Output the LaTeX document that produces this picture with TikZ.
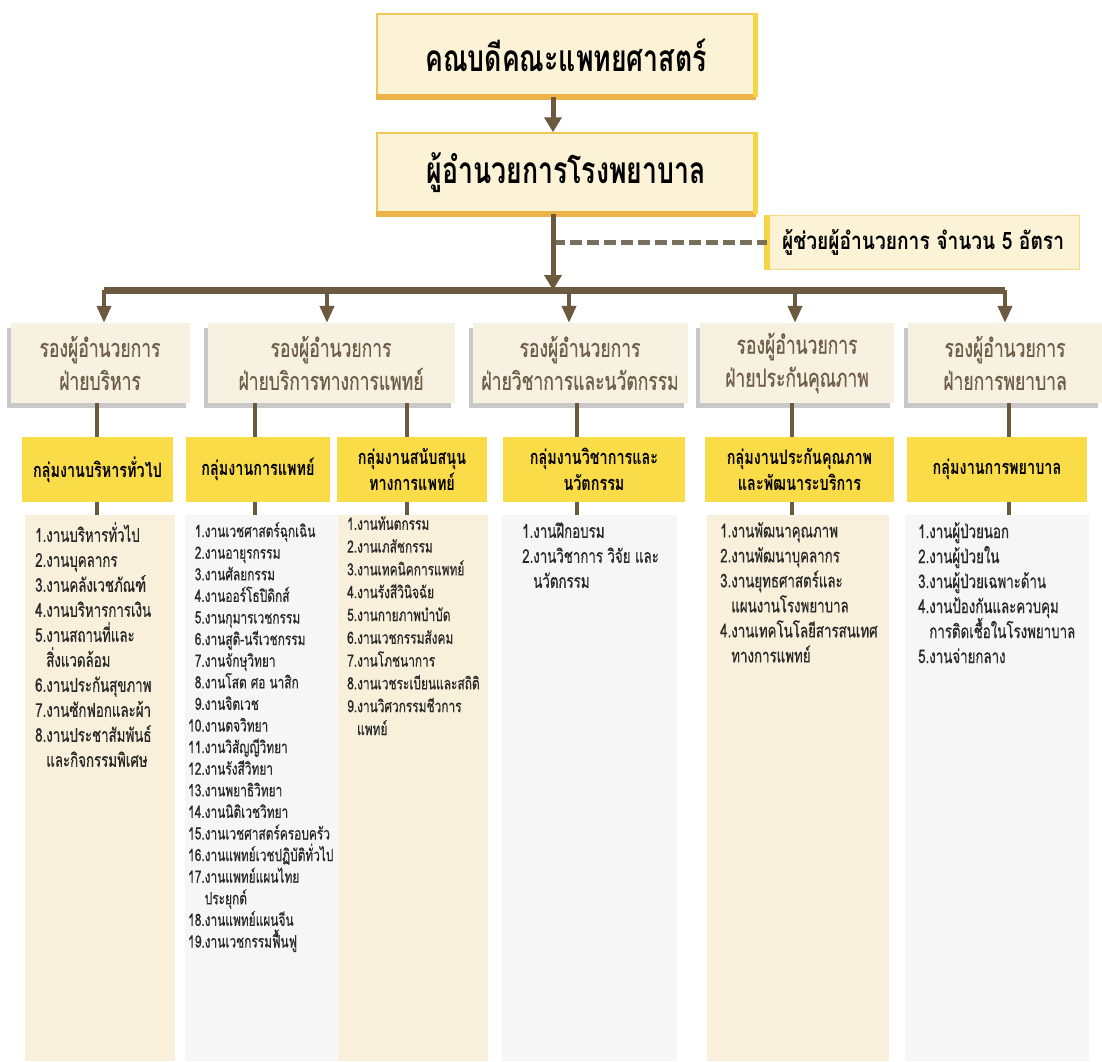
\documentclass[tikz,border=0pt]{standalone}
\usepackage{fontspec}
\newfontfamily\thai[Script=Thai,FakeStretch=0.8]{Loma}
\newfontfamily\thaicond[Script=Thai,FakeStretch=0.72]{Loma}
\newfontfamily\thaiitem[Script=Thai,FakeStretch=0.7,FakeBold=0.5]{Loma}
\usetikzlibrary{arrows.meta}
\usetikzlibrary{shadows}
\definecolor{arrowbrown}{RGB}{107,90,64}
\definecolor{dashbrown}{RGB}{122,110,92}
\definecolor{titlecream}{RGB}{252,243,214}
\definecolor{titlegold}{RGB}{240,200,90}
\definecolor{titleorange}{RGB}{236,180,72}
\definecolor{titleyellow}{RGB}{247,214,70}
\definecolor{depcream}{RGB}{247,241,225}
\definecolor{depshadow}{RGB}{200,200,200}
\definecolor{deptext}{RGB}{110,94,72}
\definecolor{grpyellow}{RGB}{250,220,72}
\definecolor{lstcream}{RGB}{248,240,218}
\definecolor{lstgray}{RGB}{246,246,246}
\definecolor{lsttext}{RGB}{40,40,40}

\begin{document}
\begin{tikzpicture}[x=1pt,y=-1pt,
    arr/.style={line width=5pt,arrowbrown,-{Triangle[width=17pt,length=15pt]}},
    drop/.style={line width=4pt,arrowbrown,-{Triangle[width=14pt,length=17pt]}},
    bar/.style={line width=7pt,arrowbrown},
    link/.style={line width=4pt,arrowbrown},
    title/.style={fill=titlecream,draw=titlegold,line width=1.5pt,minimum width=378pt,minimum height=82pt,
        font={\thaicond\bfseries\fontsize{37}{40}\selectfont}},
    assistbox/.style={fill=titlecream,draw=titlegold!70,line width=1pt,minimum width=312pt,minimum height=54pt,
        font={\thai\bfseries\fontsize{24}{28}\selectfont}},
    dep/.style={fill=depcream,minimum height=80pt,align=center,text=deptext,
        drop shadow={shadow xshift=-4pt,shadow yshift=-5pt,fill=depshadow,opacity=1},
        font={\thaiitem\fontsize{25}{33}\selectfont}},
    grp/.style={fill=grpyellow,minimum height=65pt,align=center,
        font={\thaicond\bfseries\fontsize{20}{26}\selectfont}},
    lst/.style={minimum height=546pt,inner sep=0pt},
    bigitems/.style={anchor=north west,inner sep=0pt,align=left,text=lsttext,
        font={\thaiitem\fontsize{19}{25}\selectfont\lineskiplimit=-50pt}},
    smallitems/.style={anchor=north west,inner sep=0pt,align=left,text=lsttext,
        font={\thaiitem\fontsize{17}{21.6}\selectfont\lineskiplimit=-50pt}}]
\fill[white] (0,0) rectangle (1102,1061);
\useasboundingbox (0,0) rectangle (1102,1061);

\node[title] (dean) at (566,55) {คณบดีคณะแพทยศาสตร์};
\node[title,minimum height=80pt] (dir) at (566,173) {ผู้อำนวยการโรงพยาบาล};
\draw[line width=6pt,titleorange] (dean.south west) -- (dean.south east);
\draw[line width=5pt,titleyellow] (dean.north east) -- (dean.south east);
\draw[line width=6pt,titleorange] (dir.south west) -- (dir.south east);
\draw[line width=5pt,titleyellow] (dir.north east) -- (dir.south east);
\node[assistbox] (assist) at (923,242) {ผู้ช่วยผู้อำนวยการ จำนวน 5 อัตรา};
\draw[line width=6pt,titleyellow] (assist.north west) -- (assist.south west);

\node[dep,minimum width=179pt] (dep1) at (100,363) {รองผู้อำนวยการ\\ฝ่ายบริหาร};
\node[dep,minimum width=247pt] (dep2) at (331,363) {รองผู้อำนวยการ\\ฝ่ายบริการทางการแพทย์};
\node[dep,minimum width=215pt] (dep3) at (580,363) {รองผู้อำนวยการ\\ฝ่ายวิชาการและนวัตกรรม};
\node[dep,minimum width=194pt] (dep4) at (797,363) {รองผู้อำนวยการ\\ฝ่ายประกันคุณภาพ};
\node[dep,minimum width=194pt] (dep5) at (1005,363) {รองผู้อำนวยการ\\ฝ่ายการพยาบาล};

\node[grp,minimum width=151pt] (grp1) at (97.5,469.5) {กลุ่มงานบริหารทั่วไป};
\node[grp,minimum width=144pt] (grp2) at (258,469.5) {กลุ่มงานการแพทย์};
\node[grp,minimum width=150pt] (grp3) at (412,469.5) {กลุ่มงานสนับสนุน\\ทางการแพทย์};
\node[grp,minimum width=182pt] (grp4) at (594,469.5) {กลุ่มงานวิชาการและ\\นวัตกรรม};
\node[grp,minimum width=189pt] (grp5) at (799.5,469.5) {กลุ่มงานประกันคุณภาพ\\และพัฒนาระบริการ};
\node[grp,minimum width=180pt] (grp6) at (997,469.5) {กลุ่มงานการพยาบาล};

\node[lst,fill=lstcream,minimum width=150pt] (lst1) at (100,788) {};
\node[lst,fill=lstgray,minimum width=152pt] (lst2) at (261,788) {};
\node[lst,fill=lstcream,minimum width=150pt] (lst3) at (413,788) {};
\node[lst,fill=lstgray,minimum width=175pt] (lst4) at (589.5,788) {};
\node[lst,fill=lstcream,minimum width=182pt] (lst5) at (798,788) {};
\node[lst,fill=lstgray,minimum width=184pt] (lst6) at (997,788) {};

\node[bigitems] (txt1) at (35,522) {1.งานบริหารทั่วไป\\2.งานบุคลากร\\3.งานคลังเวชภัณฑ์\\4.งานบริหารการเงิน\\5.งานสถานที่และ\\\hphantom{5.}สิ่งแวดล้อม\\6.งานประกันสุขภาพ\\7.งานซักฟอกและผ้า\\8.งานประชาสัมพันธ์\\\hphantom{8.}และกิจกรรมพิเศษ};
\node[smallitems] (txt2) at (188,522) {\hphantom{1}1.งานเวชศาสตร์ฉุกเฉิน\\\hphantom{1}2.งานอายุรกรรม\\\hphantom{1}3.งานศัลยกรรม\\\hphantom{1}4.งานออร์โธปิดิกส์\\\hphantom{1}5.งานกุมารเวชกรรม\\\hphantom{1}6.งานสูติ-นรีเวชกรรม\\\hphantom{1}7.งานจักษุวิทยา\\\hphantom{1}8.งานโสต ศอ นาสิก\\\hphantom{1}9.งานจิตเวช\\10.งานตจวิทยา\\11.งานวิสัญญีวิทยา\\12.งานรังสีวิทยา\\13.งานพยาธิวิทยา\\14.งานนิติเวชวิทยา\\15.งานเวชศาสตร์ครอบครัว\\16.งานแพทย์เวชปฏิบัติทั่วไป\\17.งานแพทย์แผนไทย\\\hphantom{17.}ประยุกต์\\18.งานแพทย์แผนจีน\\19.งานเวชกรรมฟื้นฟู};
\node[smallitems,font={\thaiitem\fontsize{17}{22.8}\selectfont\lineskiplimit=-50pt}] (txt3) at (347,516) {1.งานทันตกรรม\\2.งานเภสัชกรรม\\3.งานเทคนิคการแพทย์\\4.งานรังสีวินิจฉัย\\5.งานกายภาพบำบัด\\6.งานเวชกรรมสังคม\\7.งานโภชนาการ\\8.งานเวชระเบียนและสถิติ\\9.งานวิศวกรรมชีวการ\\\hphantom{9.}แพทย์};
\node[bigitems] (txt4) at (522,522) {1.งานฝึกอบรม\\2.งานวิชาการ วิจัย และ\\\hphantom{2.}นวัตกรรม};
\node[bigitems] (txt5) at (720,522) {1.งานพัฒนาคุณภาพ\\2.งานพัฒนาบุคลากร\\3.งานยุทธศาสตร์และ\\\hphantom{3.}แผนงานโรงพยาบาล\\4.งานเทคโนโลยีสารสนเทศ\\\hphantom{4.}ทางการแพทย์};
\node[bigitems] (txt6) at (918,522) {1.งานผู้ป่วยนอก\\2.งานผู้ป่วยใน\\3.งานผู้ป่วยเฉพาะด้าน\\4.งานป้องกันและควบคุม\\\hphantom{4.}การติดเชื้อในโรงพยาบาล\\5.งานจ่ายกลาง};

\coordinate (hub) at (553,290);
\coordinate (b1) at (104,290);
\coordinate (b2) at (327,290);
\coordinate (b3) at (569,290);
\coordinate (b4) at (795,290);
\coordinate (b5) at (1005,290);
\coordinate (c1) at (97,0);
\coordinate (c2) at (255,0);
\coordinate (c3) at (407,0);
\coordinate (c4) at (577,0);
\coordinate (c5) at (792,0);
\coordinate (c6) at (1009,0);

\draw[arr] (hub |- dean.south) -- (hub |- dir.north);
\draw[line width=5pt,dashbrown,dash pattern=on 12pt off 5pt] (hub |- assist.west) -- (assist.west);
\draw[arr] (hub |- dir.south) -- (hub);
\draw[bar] (b1) -- (b5);
\draw[drop] (b1) -- (b1 |- dep1.north);
\draw[drop] (b2) -- (b2 |- dep2.north);
\draw[drop] (b3) -- (b3 |- dep3.north);
\draw[drop] (b4) -- (b4 |- dep4.north);
\draw[drop] (b5) -- (b5 |- dep5.north);

\draw[link] (c1 |- dep1.south) -- (c1 |- grp1.north);
\draw[link] (c2 |- dep2.south) -- (c2 |- grp2.north);
\draw[link] (c3 |- dep2.south) -- (c3 |- grp3.north);
\draw[link] (c4 |- dep3.south) -- (c4 |- grp4.north);
\draw[link] (c5 |- dep4.south) -- (c5 |- grp5.north);
\draw[link] (c6 |- dep5.south) -- (c6 |- grp6.north);
\draw[link] (c1 |- grp1.south) -- (c1 |- lst1.north);
\draw[link] (c2 |- grp2.south) -- (c2 |- lst2.north);
\draw[link] (c3 |- grp3.south) -- (c3 |- lst3.north);
\draw[link] (c4 |- grp4.south) -- (c4 |- lst4.north);
\draw[link] (c5 |- grp5.south) -- (c5 |- lst5.north);
\draw[link] (c6 |- grp6.south) -- (c6 |- lst6.north);
\end{tikzpicture}
\end{document}
